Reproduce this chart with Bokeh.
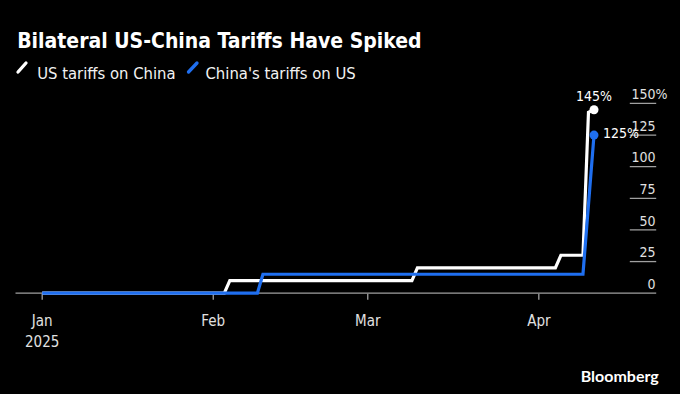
from datetime import datetime, timedelta
import pandas as pd
from bokeh.plotting import figure
from bokeh.models import Range1d, ColumnDataSource
from bokeh.core.properties import value
from bokeh.embed import file_html
from bokeh.resources import INLINE

# ---------------- data ----------------
title_text = "Bilateral US-China Tariffs Have Spiked"
series_names = ["US tariffs on China", "China's tariffs on US"]
us_dates = ["2025-01-01", "2025-02-03", "2025-02-04", "2025-03-09", "2025-03-10",
            "2025-04-04", "2025-04-05", "2025-04-09", "2025-04-10", "2025-04-11"]
us_values = [0, 0, 10, 10, 20, 20, 30, 30, 143, 145]
cn_dates = ["2025-01-01", "2025-02-09", "2025-02-10", "2025-04-09", "2025-04-11"]
cn_values = [0, 0, 15, 15, 125]
end_labels = ["145%", "125%"]
x_tick_dates = ["2025-01-01", "2025-02-01", "2025-03-01", "2025-04-01"]
x_tick_labels = ["Jan", "Feb", "Mar", "Apr"]
year_label = "2025"
y_ticks = [0, 25, 50, 75, 100, 125, 150]
y_tick_labels = ["0", "25", "50", "75", "100", "125", "150"]
source_text = "Bloomberg"

# ---------------- layout / style ----------------
W, H = 664, 378
JAN1 = datetime(2025, 1, 1)
X0_PX, PX_PER_DAY = 33.7, 5.518     # figure px of Jan 1, px per day
Y0_PX, PX_PER_PCT = 284.7, 1.265    # figure px (from top) of 0 %, px per %

def X(px):
    return JAN1 + timedelta(days=(px - X0_PX) / PX_PER_DAY)

def Y(py):
    return (Y0_PX - py) / PX_PER_PCT

FONT = value("DejaVu Sans Condensed")
WHITE = "#ffffff"
BLUE = "#1f6ff0"
GRAY = "#a0a0a0"
LABEL = "#e0e0e0"

p = figure(width=W, height=H, output_backend="svg", toolbar_location=None,
           x_axis_type="datetime", x_axis_location=None, y_axis_location=None,
           x_range=Range1d(X(0), X(W)), y_range=Range1d(Y(H), Y(0)),
           min_border=0, background_fill_color="black", border_fill_color="black",
           outline_line_color=None)
p.grid.grid_line_color = None

# baseline and right-hand gridlines
p.segment(x0=[X(7)], y0=[0], x1=[X(647.7)], y1=[0], line_color=GRAY, line_width=1.3)
grid_vals = [v for v in y_ticks if v != 0]
p.segment(x0=[X(621.3)] * len(grid_vals), y0=grid_vals,
          x1=[X(647.7)] * len(grid_vals), y1=grid_vals, line_color=GRAY, line_width=1.3)

# x ticks and labels
xt = pd.to_datetime(x_tick_dates)
p.segment(x0=xt, y0=[Y(285.3)] * len(xt), x1=xt, y1=[Y(291.3)] * len(xt),
          line_color=GRAY, line_width=1.3)
p.text(x=xt, y=[Y(312.5)] * len(xt), text=x_tick_labels, text_align="center",
       text_baseline="alphabetic", text_color=LABEL, text_font=FONT, text_font_size="15px")
p.text(x=[xt[0]], y=[Y(332.5)], text=[year_label], text_align="center",
       text_baseline="alphabetic", text_color=LABEL, text_font=FONT, text_font_size="15px")

# y tick labels (sit above their gridlines)
lab_off = 9.4 / PX_PER_PCT
p.text(x=[X(647)] * len(y_ticks), y=[v + lab_off for v in y_ticks], text=y_tick_labels,
       text_align="right", text_baseline="alphabetic", text_color=LABEL,
       text_font=FONT, text_font_size="14px")
p.text(x=[X(647)], y=[y_ticks[-1] + lab_off], text=["%"], text_align="left",
       text_baseline="alphabetic", text_color=LABEL, text_font=FONT, text_font_size="14px")

# series
us_src = ColumnDataSource(dict(x=pd.to_datetime(us_dates), y=us_values))
cn_src = ColumnDataSource(dict(x=pd.to_datetime(cn_dates), y=cn_values))
p.line("x", "y", source=us_src, line_color=WHITE, line_width=3.2, line_join="miter")
p.line("x", "y", source=cn_src, line_color=BLUE, line_width=3.2, line_join="miter")
us_last = pd.to_datetime(us_dates[-1])
cn_last = pd.to_datetime(cn_dates[-1])
p.scatter(x=[us_last], y=[us_values[-1]], size=9, fill_color=WHITE, line_color=None)
p.scatter(x=[cn_last], y=[cn_values[-1]], size=9, fill_color=BLUE, line_color=None)

# end labels
p.text(x=[us_last], y=[us_values[-1] + 13.5 / PX_PER_PCT], text=[end_labels[0]],
       text_align="center", text_baseline="alphabetic", text_color=WHITE,
       text_font=FONT, text_font_size="14px")
p.text(x=[cn_last], y=[cn_values[-1] + 2.5 / PX_PER_PCT], text=[end_labels[1]],
       text_align="left", text_baseline="middle", x_offset=9, text_color=WHITE,
       text_font=FONT, text_font_size="14px")

# title
p.text(x=[X(8.7)], y=[Y(32.7)], text=[title_text], text_align="left",
       text_baseline="alphabetic", text_color=WHITE, text_font=FONT,
       text_font_size="21px", text_font_style="bold")

# legend
p.segment(x0=[X(9.5), X(180)], y0=[Y(63.5), Y(63.5)], x1=[X(17.5), X(188.5)],
          y1=[Y(54.5), Y(54.5)], line_color=[WHITE, BLUE], line_width=3.3, line_cap="round")
p.text(x=[X(28.7), X(197)], y=[Y(65.3)] * 2, text=series_names, text_align="left",
       text_baseline="alphabetic", text_color="#f2f2f2", text_font=FONT, text_font_size="16.5px")

# source
p.text(x=[X(650.3)], y=[Y(367)], text=[source_text], text_align="right",
       text_baseline="alphabetic", text_color=WHITE, text_font=value("Lato"),
       text_font_size="16px", text_font_style="bold")

html = file_html(p, INLINE)
html = html.replace("</head>",
                    "<style>html,body{background:#000000;}body{margin:8px !important;padding:0;}</style></head>", 1)
open("out.html", "w").write(html)
